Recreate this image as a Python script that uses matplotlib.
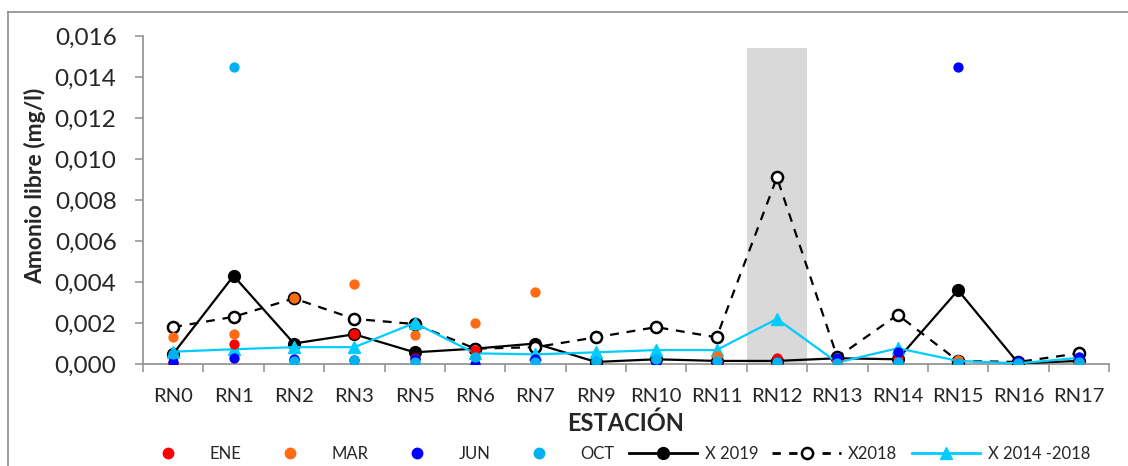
import matplotlib
matplotlib.use("Agg")
import matplotlib.pyplot as plt
from matplotlib.lines import Line2D
from matplotlib.ticker import FixedLocator, FuncFormatter
import numpy as np

plt.rcParams['font.family'] = ['Lato', 'DejaVu Sans']

stations = ["RN0", "RN1", "RN2", "RN3", "RN5", "RN6", "RN7", "RN9", "RN10",
            "RN11", "RN12", "RN13", "RN14", "RN15", "RN16", "RN17"]

ene = [0.00003, 0.0010, 0.0002, 0.00145, 0.0003, 0.00068, 0.0002, 0.0001,
       0.0002, 0.00003, 0.00028, 0.0002, 0.0003, 0.0001, 0.0001, 0.0001]
mar = [0.0013, 0.00146, 0.0032, 0.0039, 0.0014, 0.0020, 0.0035, 0.0001,
       0.0002, 0.0004, 0.00005, 0.0001, 0.0, 0.0002, 0.0, 0.0]
jun = [0.0001, 0.0003, 0.00025, 0.0002, 0.00025, 0.0, 0.00025, 0.00003,
       0.0001, 0.0001, 0.0001, 0.0003, 0.0006, 0.0145, 0.00015, 0.00035]
octu = [0.0005, 0.0145, 0.00015, 0.0002, 0.0001, 0.00035, 0.00008, 0.00015,
        0.00023, 0.00015, 0.0001, 0.00007, 0.00008, 0.00003, 0.00003, 0.0001]
x2019 = [0.0005, 0.0043, 0.0010, 0.00145, 0.00057, 0.00075, 0.0010, 0.0001,
         0.00023, 0.00015, 0.00015, 0.00028, 0.00023, 0.0036, 0.00003, 0.00015]
x2018 = [0.0018, 0.0023, 0.0032, 0.0022, 0.00195, 0.00075, 0.00082, 0.0013,
         0.0018, 0.0013, 0.0091, 0.00033, 0.0024, 0.00015, 0.0001, 0.00052]
x1418 = [0.0006, 0.00072, 0.00082, 0.00082, 0.0020, 0.00052, 0.00047, 0.00057,
         0.00068, 0.00068, 0.0022, 0.00007, 0.00077, 0.00015, 0.00003, 0.0003]

highlight_station = "RN12"
highlight_top = 0.0154

C_ENE = "#FF0000"
C_MAR = "#FF6A13"
C_JUN = "#0000FF"
C_OCT = "#00B0F0"
C_AVG = "#00CCFF"
SPINE = "#969696"

W, H = 1128, 466
fig = plt.figure(figsize=(W / 100, H / 100), dpi=100)
ax = fig.add_axes([143 / W, (H - 364) / H, (1109 - 143) / W, (364 - 36) / H])

x = np.arange(len(stations))
hi = stations.index(highlight_station)
ax.axvspan(hi - 0.5, hi + 0.5, ymin=0, ymax=highlight_top / 0.016,
           color="#D9D9D9", zorder=0, lw=0)

ax.plot(x, x2019, color="black", lw=1.6, marker="o", ms=8.5,
        mfc="black", mec="black", zorder=3)
ax.plot(x, x2018, color="black", lw=1.6, ls=(0, (4, 3.5)), marker="o", ms=8,
        mfc="white", mec="black", mew=1.8, zorder=3)
ax.plot(x, x1418, color=C_AVG, lw=1.6, marker="^", ms=8.5,
        mfc=C_AVG, mec=C_AVG, zorder=4)

s = 55
ax.scatter(x, ene, s=s, color=C_ENE, zorder=5, lw=0)
ax.scatter(x, mar, s=s, color=C_MAR, zorder=5, lw=0)
ax.scatter(x, jun, s=s, color=C_JUN, zorder=6, lw=0)
ax.scatter(x, octu, s=s, color=C_OCT, zorder=6, lw=0)

ax.set_xlim(-0.5, len(stations) - 0.5)
ax.set_ylim(0, 0.016)
ax.set_yticks(np.arange(0, 0.0161, 0.002))
ax.yaxis.set_major_formatter(FuncFormatter(lambda v, p: f"{v:.3f}".replace(".", ",")))

ax.set_xticks(x)
ax.set_xticklabels(stations)
ax.xaxis.set_minor_locator(FixedLocator(np.arange(-0.5, len(stations), 1.0)))
ax.tick_params(axis="x", which="major", length=0, pad=17, labelsize=14.5,
               labelcolor="#262626")
ax.tick_params(axis="x", which="minor", length=6, width=1.2, color=SPINE,
               direction="out")
ax.tick_params(axis="y", length=6, width=1.2, color=SPINE, direction="out",
               pad=13, labelsize=17.5, labelcolor="#262626")

for side in ("top", "right"):
    ax.spines[side].set_visible(False)
for side in ("left", "bottom"):
    ax.spines[side].set_color(SPINE)
    ax.spines[side].set_linewidth(1.3)
ax.patch.set_alpha(0)

fig.text(35 / W, 1 - 186 / H, "Amonio libre (mg/l)", rotation=90,
         ha="center", va="center", fontsize=16.5, fontweight="bold",
         color="#262626")
fig.text(626 / W, 1 - 423 / H, "ESTACIÓN", ha="center", va="center",
         fontsize=17, fontweight="bold", color="#262626")

handles = [
    Line2D([], [], ls="none", marker="o", ms=7.5, color=C_ENE),
    Line2D([], [], ls="none", marker="o", ms=7.5, color=C_MAR),
    Line2D([], [], ls="none", marker="o", ms=7.5, color=C_JUN),
    Line2D([], [], ls="none", marker="o", ms=7.5, color=C_OCT),
    Line2D([], [], color="black", lw=2, marker="o", ms=8.5),
    Line2D([], [], color="black", lw=2, ls=(0, (3, 3)), marker="o", ms=8,
           mfc="white", mew=1.8),
    Line2D([], [], color=C_AVG, lw=2, marker="^", ms=8.5),
]
labels = ["ENE", "MAR", "JUN", "OCT", "X 2019", "X2018", "X 2014 -2018"]
fig.legend(handles, labels, ncol=7, loc="center",
           bbox_to_anchor=(612 / W, 1 - 454 / H), frameon=False,
           fontsize=12, handlelength=4.1, handletextpad=0.45,
           columnspacing=0.85, numpoints=1, labelcolor="#262626",
           borderaxespad=0, borderpad=0)

fig.add_artist(Line2D([8 / W, 8 / W], [0, 1 - 12 / H], color="#8C8C8C",
                      lw=1.2, transform=fig.transFigure))
fig.add_artist(Line2D([8 / W, 1], [1 - 12 / H, 1 - 12 / H], color="#8C8C8C",
                      lw=1.2, transform=fig.transFigure))

fig.savefig("out.png", dpi=100)
